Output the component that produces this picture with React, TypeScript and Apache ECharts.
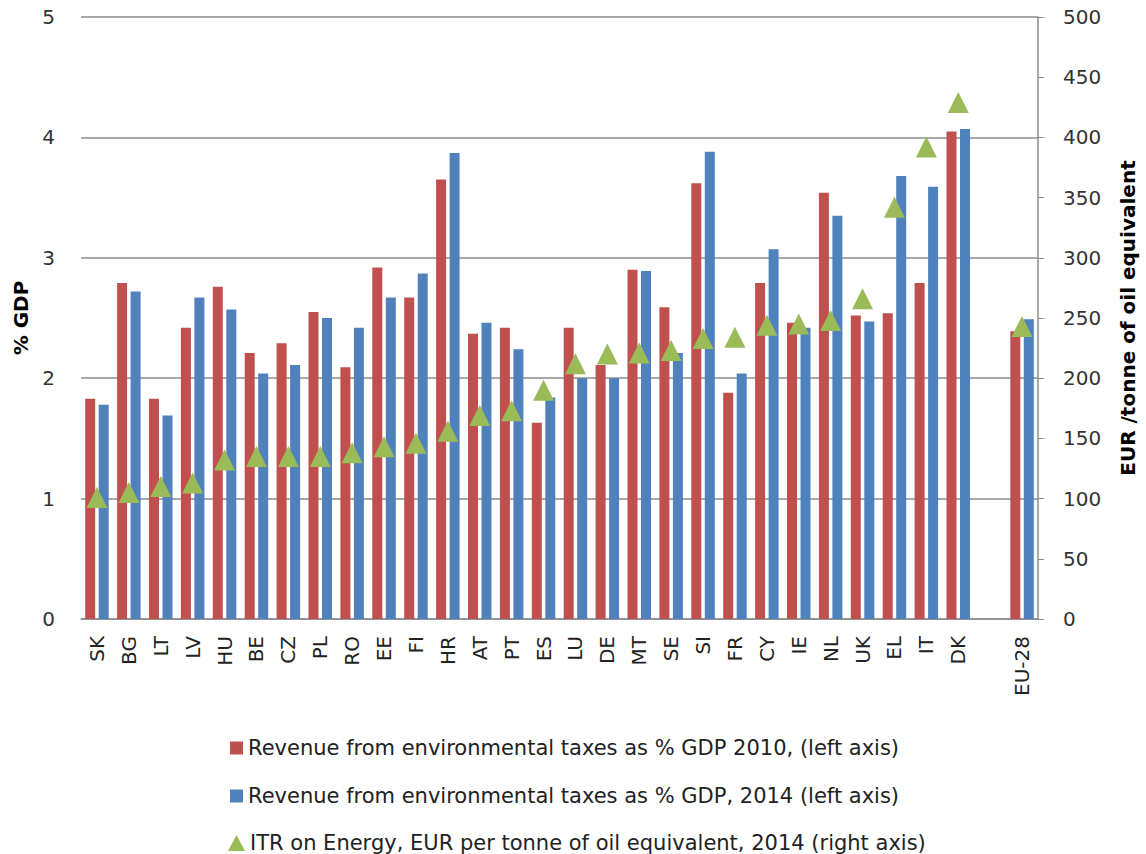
import React, { useEffect, useRef } from "react";
import * as echarts from "echarts";

const countries = [
	"SK", "BG", "LT", "LV", "HU", "BE", "CZ", "PL", "RO", "EE",
	"FI", "HR", "AT", "PT", "ES", "LU", "DE", "MT", "SE", "SI",
	"FR", "CY", "IE", "NL", "UK", "EL", "IT", "DK", "", "EU-28",
];

// % GDP, 2010 (left axis)
const revenue2010 = [
	1.83, 2.79, 1.83, 2.42, 2.76, 2.21, 2.29, 2.55, 2.09, 2.92,
	2.67, 3.65, 2.37, 2.42, 1.63, 2.42, 2.11, 2.9, 2.59, 3.62,
	1.88, 2.79, 2.46, 3.54, 2.52, 2.54, 2.79, 4.05, null, 2.39,
];

// % GDP, 2014 (left axis)
const revenue2014 = [
	1.78, 2.72, 1.69, 2.67, 2.57, 2.04, 2.11, 2.5, 2.42, 2.67,
	2.87, 3.87, 2.46, 2.24, 1.84, 2.0, 2.0, 2.89, 2.21, 3.88,
	2.04, 3.07, 2.42, 3.35, 2.47, 3.68, 3.59, 4.07, null, 2.49,
];

// EUR per tonne of oil equivalent, 2014 (right axis)
const itrEnergy = [
	101, 105, 110, 113, 132, 135, 135, 135, 138, 143,
	146, 156, 169, 173, 190, 212, 220, 221, 223, 233,
	234, 244, 245, 248, 266, 342, 392, 429, null, 243,
];

const legendNames = [
	"Revenue from environmental taxes as % GDP 2010, (left axis)",
	"Revenue from environmental taxes as % GDP, 2014 (left axis)",
	"ITR on Energy, EUR per tonne of oil equivalent, 2014 (right axis)",
];
const legendIcons = ["rect", "rect", "triangle"];
const legendTops = [731, 779, 826];

const FONT = "'DejaVu Sans', sans-serif";

export default function App() {
	const chartRef = useRef<HTMLDivElement>(null);

	useEffect(() => {
		if (!chartRef.current) return;
		const chart = echarts.init(chartRef.current, null, { renderer: "svg" });

		// one legend per row so they stack like the original
		const legends = legendNames.map((name, i) => ({
			orient: "vertical",
			left: i === 2 ? 223 : 225,
			top: legendTops[i],
			itemWidth: i === 2 ? 17 : 13,
			itemHeight: i === 2 ? 16 : 13,
			textStyle: { fontSize: 21, color: "#222", fontFamily: FONT, lineHeight: 24 },
			data: [{ name, icon: legendIcons[i] }],
		}));

		chart.setOption({
			animation: false,
			textStyle: { fontFamily: FONT },
			grid: { left: 81, right: 108, top: 17, bottom: 235, outerBoundsMode: "none" },
			legend: legends,
			xAxis: {
				type: "category",
				data: countries,
				axisLine: { lineStyle: { color: "#8c8c8c", width: 1.5 } },
				axisTick: { show: false },
				axisLabel: { rotate: 90, fontSize: 20, color: "#222", margin: 17, interval: 0 },
			},
			yAxis: [
				{
					type: "value",
					min: 0,
					max: 5,
					interval: 1,
					name: "% GDP",
					nameLocation: "middle",
					nameRotate: 90,
					nameGap: 50,
					nameTextStyle: { fontSize: 20, fontWeight: "bold", color: "#000" },
					axisLine: { show: false },
					axisTick: { show: false },
					axisLabel: { fontSize: 20, color: "#333", margin: 26 },
					splitLine: { lineStyle: { color: "#8c8c8c", width: 1.5 } },
				},
				{
					type: "value",
					min: 0,
					max: 500,
					interval: 50,
					position: "right",
					name: "EUR /tonne of oil equivalent",
					nameLocation: "middle",
					nameRotate: 90,
					nameGap: 80,
					nameTextStyle: { fontSize: 20, fontWeight: "bold", color: "#000" },
					axisLine: { show: true, lineStyle: { color: "#8c8c8c", width: 1.5 } },
					axisTick: { show: true, length: 6, lineStyle: { color: "#8c8c8c" } },
					axisLabel: { fontSize: 20, color: "#333", margin: 25 },
					splitLine: { show: false },
				},
			],
			series: [
				{
					name: legendNames[0],
					type: "bar",
					data: revenue2010,
					barWidth: 10,
					barGap: "35%",
					itemStyle: { color: "#C0504D" },
				},
				{
					name: legendNames[1],
					type: "bar",
					data: revenue2014,
					barWidth: 10,
					barGap: "35%",
					itemStyle: { color: "#4F81BD" },
				},
				{
					name: legendNames[2],
					type: "scatter",
					yAxisIndex: 1,
					data: itrEnergy,
					symbol: "triangle",
					symbolSize: [21, 21],
					itemStyle: { color: "#9BBB59", opacity: 1 },
					z: 5,
				},
			],
		});

		return () => chart.dispose();
	}, []);

	return (
		<div
			ref={chartRef}
			style={{ position: "absolute", left: 0, top: 0, width: 1146, height: 854 }}
		/>
	);
}
